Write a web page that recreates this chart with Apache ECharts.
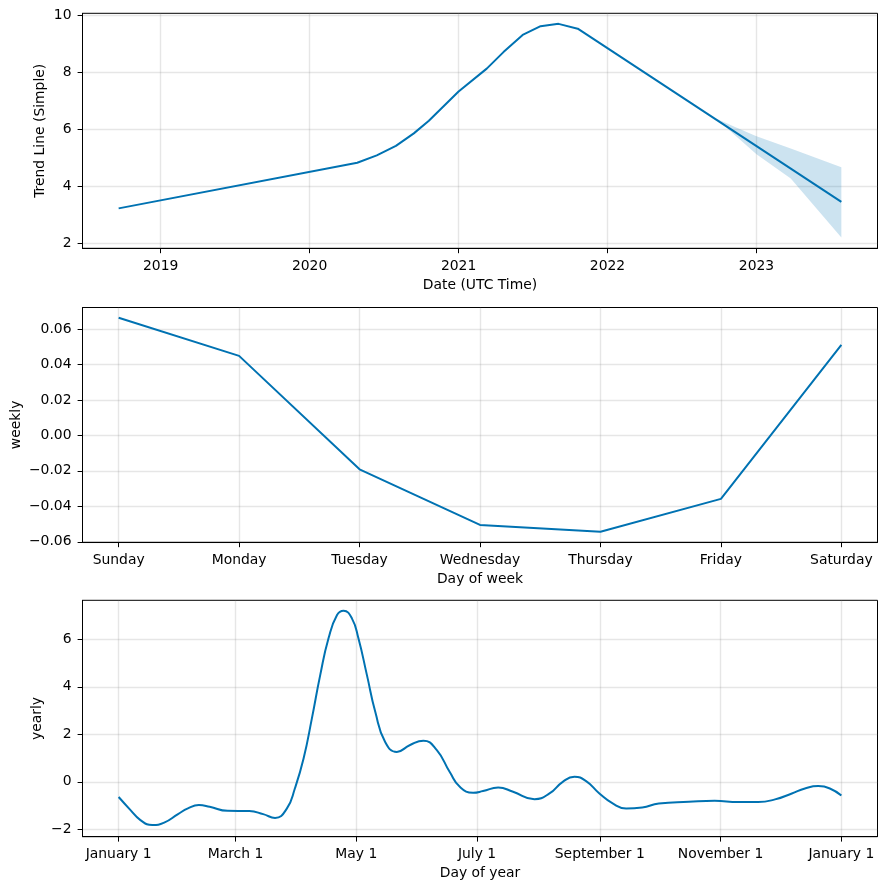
<!DOCTYPE html>
<html><head><meta charset="utf-8">
<script src="https://cdn.jsdelivr.net/npm/echarts@6/dist/echarts.min.js"></script>
<style>html,body{margin:0;padding:0;background:#fff}#c{width:886px;height:889px}</style>
</head><body><div id="c"></div>
<script>
// ---- Trend panel ----
const trendDates = ['2018-09-20','2020-04-27','2020-06-14','2020-07-31','2020-09-13','2020-10-20','2021-01-01','2021-03-11','2021-04-21','2021-06-07','2021-07-21','2021-09-03','2021-10-20','2023-07-28'];
const trendValues = [3.23, 4.83, 5.09, 5.42, 5.86, 6.30, 7.33, 8.13, 8.71, 9.31, 9.62, 9.70, 9.53, 3.46];
const bandDates = ['2022-09-24','2022-11-08','2023-01-01','2023-03-26','2023-07-28'];
const bandLower = [6.38, 5.81, 5.13, 4.28, 2.21];
const bandUpper = [6.38, 6.09, 5.76, 5.33, 4.67];
const yearTicks = [2019, 2020, 2021, 2022, 2023];
const trendYTicks = [2, 4, 6, 8, 10];

// ---- Weekly panel ----
const weekdays = ['Sunday','Monday','Tuesday','Wednesday','Thursday','Friday','Saturday'];
const weeklyValues = [0.0664, 0.0449, -0.0191, -0.0505, -0.0543, -0.0358, 0.0511];
const weeklyYTicks = [-0.06, -0.04, -0.02, 0, 0.02, 0.04, 0.06];

// ---- Yearly panel ----
const yearlyDays = [0, 6, 11, 17, 23, 30, 35, 40.5, 46, 55, 66, 73, 79, 85, 89, 93.4, 97.6, 101.8, 106, 110.3, 113.6, 117.8, 121.1, 125.4, 129.6, 134.6, 140.5, 147.2, 153.9, 160.7, 167.3, 172.3, 179, 184, 191.7, 199.2, 210, 217.6, 224.3, 230.2, 236.1, 242.8, 249.5, 256.3, 264.4, 272.8, 288, 301, 313, 323, 331.5, 340, 346.6, 353.3, 359.2, 365];
const yearlyValues = [-0.64, -1.19, -1.61, -1.82, -1.72, -1.36, -1.12, -0.98, -1.05, -1.22, -1.23, -1.36, -1.52, -1.12, -0.28, 0.98, 2.67, 4.49, 6.04, 7.02, 7.20, 6.88, 6.04, 4.49, 2.95, 1.68, 1.26, 1.55, 1.73, 1.33, 0.40, -0.21, -0.46, -0.39, -0.24, -0.42, -0.73, -0.49, 0.00, 0.21, 0.03, -0.49, -0.91, -1.12, -1.08, -0.91, -0.84, -0.80, -0.85, -0.85, -0.74, -0.49, -0.28, -0.18, -0.28, -0.58];
const monthTickDays = [0, 59, 120, 181, 243, 304, 365];
const monthTickLabels = ['January 1','March 1','May 1','July 1','September 1','November 1','January 1'];
const yearlyYTicks = [-2, 0, 2, 4, 6];

function decYear(s) {
  const d = new Date(s + 'T00:00:00Z');
  const y = d.getUTCFullYear();
  const a = Date.UTC(y, 0, 1), b = Date.UTC(y + 1, 0, 1);
  return y + (d.getTime() - a) / (b - a);
}
const FONT = 'DejaVu Sans';
const FS = 13.9;
const LINE = '#0072B2';
const minus = s => String(s).replace('-', '\u2212');

function axisBase(gridIndex, min, max, ticks, fmt, name, nameGap, vertical) {
  const a = {
    type: 'value', gridIndex, min, max,
    axisLine: { show: true, onZero: false, lineStyle: { color: '#000', width: 1 } },
    axisTick: { show: true, length: 4.9, customValues: ticks, lineStyle: { color: '#000', width: 1 } },
    axisLabel: { show: true, customValues: ticks, margin: 11, color: '#000', fontFamily: FONT, fontSize: FS, formatter: fmt },
    splitLine: { show: true, lineStyle: { color: 'rgba(128,128,128,0.2)', width: 1.4 } },
    name, nameLocation: 'middle', nameGap, nameMoveOverlap: false,
    nameTextStyle: { color: '#000', fontFamily: FONT, fontSize: FS }
  };
  if (vertical) a.nameRotate = 90;
  return a;
}

const trendData = trendDates.map((d, i) => [decYear(d), trendValues[i]]);
const bandData = bandDates.map((d, i) => [decYear(d), bandLower[i], bandUpper[i]]);
const weeklyData = weeklyValues.map((v, i) => [i, v]);
const yearlyData = yearlyDays.map((d, i) => [d, yearlyValues[i]]);

const x0min = decYear(trendDates[0]), x0max = decYear(trendDates[trendDates.length - 1]);
const x0pad = (x0max - x0min) * 0.05;

const chart = echarts.init(document.getElementById('c'), null, { renderer: 'canvas' });
chart.setOption({
  animation: false,
  backgroundColor: '#fff',
  grid: [
    { left: 82.5, top: 13.3, width: 795, height: 235, show: true, borderColor: '#000', borderWidth: 1, containLabel: false },
    { left: 82.5, top: 307.5, width: 795, height: 234.8, show: true, borderColor: '#000', borderWidth: 1, containLabel: false },
    { left: 82.5, top: 600.3, width: 795, height: 236.4, show: true, borderColor: '#000', borderWidth: 1, containLabel: false }
  ],
  xAxis: [
    axisBase(0, x0min - x0pad, x0max + x0pad, yearTicks, v => String(Math.round(v)), 'Date (UTC Time)', 30, false),
    axisBase(1, -0.3, 6.3, weekdays.map((_, i) => i), v => weekdays[Math.round(v)], 'Day of week', 30, false),
    axisBase(2, -18.25, 383.25, monthTickDays, v => monthTickLabels[monthTickDays.indexOf(v)], 'Day of year', 30, false)
  ],
  yAxis: [
    axisBase(0, 1.83, 10.07, trendYTicks, v => minus(v), 'Trend Line (Simple)', 35, true),
    axisBase(1, -0.0603, 0.0722, weeklyYTicks, v => minus(v.toFixed(2)), 'weekly', 59, true),
    axisBase(2, -2.31, 7.64, yearlyYTicks, v => minus(v), 'yearly', 38, true)
  ],
  series: [
    {
      type: 'custom', xAxisIndex: 0, yAxisIndex: 0, silent: true, z: 1,
      data: bandData, encode: { x: 0, y: [1, 2] },
      renderItem: function (params, api) {
        if (params.dataIndex !== 0) return null;
        const pts = [];
        for (let i = 0; i < bandData.length; i++) pts.push(api.coord([bandData[i][0], bandData[i][2]]));
        for (let i = bandData.length - 1; i >= 0; i--) pts.push(api.coord([bandData[i][0], bandData[i][1]]));
        return { type: 'polygon', shape: { points: pts }, style: { fill: 'rgba(0,114,178,0.2)' } };
      }
    },
    { type: 'line', xAxisIndex: 0, yAxisIndex: 0, data: trendData, showSymbol: false, symbol: 'none', z: 2,
      lineStyle: { color: LINE, width: 2 } },
    { type: 'line', xAxisIndex: 1, yAxisIndex: 1, data: weeklyData, showSymbol: false, symbol: 'none',
      lineStyle: { color: LINE, width: 2 } },
    { type: 'line', xAxisIndex: 2, yAxisIndex: 2, data: yearlyData, showSymbol: false, symbol: 'none',
      smooth: 0.5,
      lineStyle: { color: LINE, width: 2 } }
  ]
});
</script>
</body></html>
